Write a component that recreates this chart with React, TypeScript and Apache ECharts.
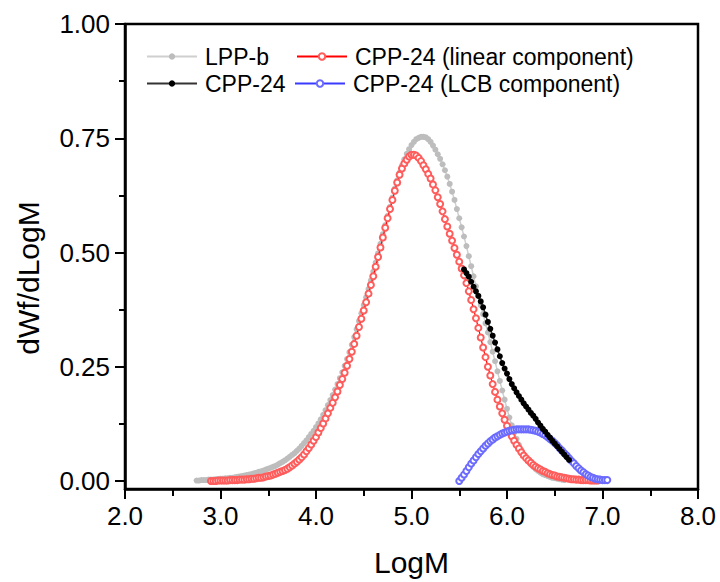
import React, { useEffect, useRef } from "react";
import * as echarts from "echarts";

// LogM vs dWf/dLogM
const lppB: [number, number][] = [
  [2.75, 0.001], [2.775, 0.001], [2.8, 0.002], [2.825, 0.002], [2.85, 0.002], [2.875, 0.003], [2.9, 0.003], [2.925, 0.003],
  [2.95, 0.004], [2.975, 0.004], [3.0, 0.005], [3.025, 0.005], [3.05, 0.006], [3.075, 0.006], [3.1, 0.007], [3.125, 0.007],
  [3.15, 0.008], [3.175, 0.009], [3.2, 0.01], [3.225, 0.011], [3.25, 0.012], [3.275, 0.013], [3.3, 0.014], [3.325, 0.015],
  [3.35, 0.017], [3.375, 0.018], [3.4, 0.02], [3.425, 0.021], [3.45, 0.023], [3.475, 0.025], [3.5, 0.027], [3.525, 0.029],
  [3.55, 0.031], [3.575, 0.033], [3.6, 0.036], [3.625, 0.039], [3.65, 0.042], [3.675, 0.045], [3.7, 0.049], [3.725, 0.053],
  [3.75, 0.057], [3.775, 0.061], [3.8, 0.066], [3.825, 0.071], [3.85, 0.077], [3.875, 0.083], [3.9, 0.089], [3.925, 0.096],
  [3.95, 0.103], [3.975, 0.11], [4.0, 0.118], [4.025, 0.126], [4.05, 0.135], [4.075, 0.145], [4.1, 0.155], [4.125, 0.166],
  [4.15, 0.177], [4.175, 0.188], [4.2, 0.2], [4.225, 0.212], [4.25, 0.225], [4.275, 0.238], [4.3, 0.252], [4.325, 0.267],
  [4.35, 0.282], [4.375, 0.298], [4.4, 0.315], [4.425, 0.332], [4.45, 0.35], [4.475, 0.367], [4.5, 0.385], [4.525, 0.402],
  [4.55, 0.42], [4.575, 0.439], [4.6, 0.458], [4.625, 0.478], [4.65, 0.498], [4.675, 0.519], [4.7, 0.54], [4.725, 0.56],
  [4.75, 0.58], [4.775, 0.6], [4.8, 0.62], [4.825, 0.64], [4.85, 0.658], [4.875, 0.675], [4.9, 0.69], [4.925, 0.704],
  [4.95, 0.716], [4.975, 0.726], [5.0, 0.735], [5.025, 0.742], [5.05, 0.748], [5.075, 0.751], [5.1, 0.753], [5.125, 0.753],
  [5.15, 0.752], [5.175, 0.748], [5.2, 0.742], [5.225, 0.734], [5.25, 0.725], [5.275, 0.715], [5.3, 0.705], [5.325, 0.693],
  [5.35, 0.68], [5.375, 0.666], [5.4, 0.65], [5.425, 0.633], [5.45, 0.615], [5.475, 0.595], [5.5, 0.575], [5.525, 0.555],
  [5.55, 0.535], [5.575, 0.514], [5.6, 0.492], [5.625, 0.47], [5.65, 0.448], [5.675, 0.426], [5.7, 0.405], [5.725, 0.385],
  [5.75, 0.365], [5.775, 0.345], [5.8, 0.325], [5.825, 0.304], [5.85, 0.283], [5.875, 0.262], [5.9, 0.24], [5.925, 0.219],
  [5.95, 0.198], [5.975, 0.178], [6.0, 0.158], [6.025, 0.139], [6.05, 0.122], [6.075, 0.106], [6.1, 0.092], [6.125, 0.079],
  [6.15, 0.068], [6.175, 0.058], [6.2, 0.05], [6.225, 0.043], [6.25, 0.036], [6.275, 0.031], [6.3, 0.026], [6.325, 0.022],
  [6.35, 0.018], [6.375, 0.015], [6.4, 0.013], [6.425, 0.011], [6.45, 0.009], [6.475, 0.007], [6.5, 0.006], [6.525, 0.005],
  [6.55, 0.004], [6.575, 0.003], [6.6, 0.002],
];

const cpp24: [number, number][] = [
  [5.55, 0.463], [5.575, 0.455], [5.6, 0.447], [5.625, 0.436], [5.65, 0.425], [5.675, 0.415], [5.7, 0.405], [5.725, 0.393],
  [5.75, 0.38], [5.775, 0.364], [5.8, 0.348], [5.825, 0.333], [5.85, 0.318], [5.875, 0.303], [5.9, 0.288], [5.925, 0.273],
  [5.95, 0.258], [5.975, 0.246], [6.0, 0.235], [6.025, 0.223], [6.05, 0.212], [6.075, 0.203], [6.1, 0.194], [6.125, 0.186],
  [6.15, 0.178], [6.175, 0.17], [6.2, 0.163], [6.225, 0.156], [6.25, 0.149], [6.275, 0.143], [6.3, 0.136], [6.325, 0.128],
  [6.35, 0.121], [6.375, 0.114], [6.4, 0.108], [6.425, 0.101], [6.45, 0.095], [6.475, 0.088], [6.5, 0.082], [6.525, 0.076],
  [6.55, 0.07], [6.575, 0.064], [6.6, 0.058], [6.625, 0.052], [6.65, 0.046],
];

const cppLinear: [number, number][] = [
  [2.9, 0.0], [2.925, 0.0], [2.95, 0.0], [2.975, 0.001], [3.0, 0.001], [3.025, 0.001], [3.05, 0.001], [3.075, 0.001],
  [3.1, 0.002], [3.125, 0.002], [3.15, 0.002], [3.175, 0.002], [3.2, 0.003], [3.225, 0.003], [3.25, 0.003], [3.275, 0.004],
  [3.3, 0.004], [3.325, 0.005], [3.35, 0.005], [3.375, 0.006], [3.4, 0.007], [3.425, 0.007], [3.45, 0.008], [3.475, 0.01],
  [3.5, 0.011], [3.525, 0.012], [3.55, 0.014], [3.575, 0.016], [3.6, 0.018], [3.625, 0.02], [3.65, 0.022], [3.675, 0.024],
  [3.7, 0.027], [3.725, 0.03], [3.75, 0.034], [3.775, 0.038], [3.8, 0.042], [3.825, 0.047], [3.85, 0.052], [3.875, 0.058],
  [3.9, 0.065], [3.925, 0.072], [3.95, 0.08], [3.975, 0.088], [4.0, 0.096], [4.025, 0.106], [4.05, 0.116], [4.075, 0.126],
  [4.1, 0.137], [4.125, 0.148], [4.15, 0.16], [4.175, 0.171], [4.2, 0.183], [4.225, 0.196], [4.25, 0.21], [4.275, 0.223],
  [4.3, 0.237], [4.325, 0.252], [4.35, 0.267], [4.375, 0.283], [4.4, 0.3], [4.425, 0.318], [4.45, 0.337], [4.475, 0.355],
  [4.5, 0.373], [4.525, 0.391], [4.55, 0.41], [4.575, 0.429], [4.6, 0.448], [4.625, 0.469], [4.65, 0.49], [4.675, 0.511],
  [4.7, 0.533], [4.725, 0.554], [4.75, 0.575], [4.775, 0.595], [4.8, 0.615], [4.825, 0.635], [4.85, 0.653], [4.875, 0.67],
  [4.9, 0.684], [4.925, 0.695], [4.95, 0.703], [4.975, 0.71], [5.0, 0.714], [5.025, 0.714], [5.05, 0.712], [5.075, 0.707],
  [5.1, 0.7], [5.125, 0.691], [5.15, 0.682], [5.175, 0.672], [5.2, 0.662], [5.225, 0.649], [5.25, 0.636], [5.275, 0.621],
  [5.3, 0.606], [5.325, 0.59], [5.35, 0.573], [5.375, 0.557], [5.4, 0.541], [5.425, 0.526], [5.45, 0.51], [5.475, 0.495],
  [5.5, 0.48], [5.525, 0.465], [5.55, 0.45], [5.575, 0.433], [5.6, 0.415], [5.625, 0.396], [5.65, 0.376], [5.675, 0.356],
  [5.7, 0.335], [5.725, 0.314], [5.75, 0.292], [5.775, 0.271], [5.8, 0.25], [5.825, 0.231], [5.85, 0.212], [5.875, 0.195],
  [5.9, 0.178], [5.925, 0.163], [5.95, 0.148], [5.975, 0.134], [6.0, 0.121], [6.025, 0.109], [6.05, 0.098], [6.075, 0.088],
  [6.1, 0.079], [6.125, 0.071], [6.15, 0.063], [6.175, 0.056], [6.2, 0.05], [6.225, 0.045], [6.25, 0.04], [6.275, 0.035],
  [6.3, 0.031], [6.325, 0.028], [6.35, 0.025], [6.375, 0.022], [6.4, 0.02], [6.425, 0.017], [6.45, 0.015], [6.475, 0.013],
  [6.5, 0.012], [6.525, 0.01], [6.55, 0.009], [6.575, 0.008], [6.6, 0.007], [6.625, 0.006], [6.65, 0.005], [6.675, 0.004],
  [6.7, 0.004], [6.725, 0.003], [6.75, 0.003], [6.775, 0.002], [6.8, 0.002], [6.825, 0.002], [6.85, 0.002], [6.875, 0.001],
  [6.9, 0.001], [6.925, 0.001], [6.95, 0.001],
];

const cppLcb: [number, number][] = [
  [5.5, 0.0], [5.525, 0.007], [5.55, 0.014], [5.575, 0.022], [5.6, 0.03], [5.625, 0.038], [5.65, 0.045], [5.675, 0.052],
  [5.7, 0.059], [5.725, 0.065], [5.75, 0.071], [5.775, 0.077], [5.8, 0.082], [5.825, 0.087], [5.85, 0.091], [5.875, 0.095],
  [5.9, 0.098], [5.925, 0.101], [5.95, 0.104], [5.975, 0.106], [6.0, 0.108], [6.025, 0.11], [6.05, 0.111], [6.075, 0.112],
  [6.1, 0.113], [6.125, 0.113], [6.15, 0.113], [6.175, 0.113], [6.2, 0.113], [6.225, 0.113], [6.25, 0.112], [6.275, 0.111],
  [6.3, 0.11], [6.325, 0.108], [6.35, 0.106], [6.375, 0.103], [6.4, 0.1], [6.425, 0.096], [6.45, 0.092], [6.475, 0.088],
  [6.5, 0.083], [6.525, 0.078], [6.55, 0.072], [6.575, 0.067], [6.6, 0.061], [6.625, 0.056], [6.65, 0.05], [6.675, 0.044],
  [6.7, 0.039], [6.725, 0.033], [6.75, 0.028], [6.775, 0.023], [6.8, 0.019], [6.825, 0.015], [6.85, 0.012], [6.875, 0.009],
  [6.9, 0.007], [6.925, 0.005], [6.95, 0.004], [6.975, 0.003], [7.0, 0.002], [7.025, 0.002], [7.05, 0.002],
];

const seriesNames = ["LPP-b", "CPP-24", "CPP-24 (linear component)", "CPP-24 (LCB component)"];
const yMajorTicks = [0, 0.25, 0.5, 0.75, 1.0];
const yMinorTicks = [0.125, 0.375, 0.625, 0.875];
const xAxisTitle = "LogM";
const yAxisTitle = "dWf/dLogM";

const FONT = '"Liberation Sans", Arial, sans-serif';

export default function App() {
  const ref = useRef<HTMLDivElement>(null);
  useEffect(() => {
    document.body.style.margin = "0";
    if (!ref.current) return;
    const chart = echarts.init(ref.current, undefined, { renderer: "svg" });
    const legendCommon = {
      orient: "horizontal",
      itemWidth: 50,
      itemHeight: 8,
      itemGap: 0,
      padding: 0,
      selectedMode: false,
      textStyle: { fontSize: 23, fontFamily: FONT, color: "#000", padding: [0, 0, 0, 3] },
    };
    chart.setOption({
      animation: false,
      backgroundColor: "#fff",
      grid: {
        left: 125,
        right: 22,
        top: 24,
        bottom: 92,
        show: true,
        borderColor: "#000",
        borderWidth: 2.5,
        backgroundColor: "transparent",
      },
      legend: [
        { ...legendCommon, data: [seriesNames[0]], left: 146, top: 45 },
        { ...legendCommon, data: [seriesNames[2]], left: 296, top: 45 },
        { ...legendCommon, data: [seriesNames[1]], left: 146, top: 72 },
        { ...legendCommon, data: [seriesNames[3]], left: 294, top: 72 },
      ],
      xAxis: {
        type: "value",
        min: 2,
        max: 8,
        interval: 1,
        name: xAxisTitle,
        nameLocation: "middle",
        nameGap: 58,
        nameTextStyle: { fontSize: 30, fontFamily: FONT, color: "#000" },
        axisLine: { show: true, onZero: false, lineStyle: { color: "#000", width: 2.5 } },
        axisTick: { show: true, inside: false, length: 10, lineStyle: { color: "#000", width: 2 } },
        minorTick: { show: true, splitNumber: 2, length: 7, lineStyle: { color: "#000", width: 2 } },
        axisLabel: {
          fontSize: 26,
          fontFamily: FONT,
          color: "#000",
          margin: 14,
          formatter: (v: number) => v.toFixed(1),
        },
        splitLine: { show: false },
        minorSplitLine: { show: false },
      },
      yAxis: [
        {
          type: "value",
          min: -0.0175,
          max: 1.0,
          position: "left",
          axisLine: { show: true, onZero: false, lineStyle: { color: "#000", width: 2.5 } },
          axisTick: {
            show: true,
            inside: false,
            length: 10,
            customValues: yMajorTicks,
            lineStyle: { color: "#000", width: 2 },
          },
          axisLabel: {
            fontSize: 26,
            fontFamily: FONT,
            color: "#000",
            margin: 15,
            customValues: yMajorTicks,
            formatter: (v: number) => v.toFixed(2),
          },
          splitLine: { show: false },
        },
        {
          type: "value",
          min: -0.0175,
          max: 1.0,
          position: "left",
          offset: 0,
          axisLine: { show: false, onZero: false },
          axisTick: {
            show: true,
            inside: false,
            length: 6,
            customValues: yMinorTicks,
            lineStyle: { color: "#000", width: 2 },
          },
          axisLabel: { show: false, customValues: yMinorTicks },
          splitLine: { show: false },
        },
      ],
      graphic: [
        {
          type: "text",
          x: 28,
          y: 278,
          rotation: Math.PI / 2,
          style: {
            text: yAxisTitle,
            font: `30px ${FONT}`,
            fill: "#000",
            textAlign: "center",
            textVerticalAlign: "middle",
          },
        },
      ],
      series: [
        {
          name: seriesNames[0],
          type: "line",
          data: lppB,
          symbol: "circle",
          symbolSize: 6,
          showAllSymbol: true,
          itemStyle: { color: "#bdbdbd" },
          lineStyle: { color: "#cfcfcf", width: 1.5 },
          z: 2,
        },
        {
          name: seriesNames[1],
          type: "line",
          data: cpp24,
          symbol: "circle",
          symbolSize: 6,
          showAllSymbol: true,
          itemStyle: { color: "#000" },
          lineStyle: { color: "#333", width: 1.5 },
          z: 5,
        },
        {
          name: seriesNames[2],
          type: "line",
          data: cppLinear,
          symbol: "emptyCircle",
          symbolSize: 6,
          showAllSymbol: true,
          itemStyle: { color: "#ff5c5c", borderWidth: 1 },
          lineStyle: { color: "#ff0000", width: 1.2 },
          z: 3,
        },
        {
          name: seriesNames[3],
          type: "line",
          data: cppLcb,
          symbol: "emptyCircle",
          symbolSize: 6,
          showAllSymbol: true,
          itemStyle: { color: "#6b6bff", borderWidth: 1 },
          lineStyle: { color: "#3a3aff", width: 1.2 },
          z: 4,
        },
      ],
    });
    return () => chart.dispose();
  }, []);
  return <div ref={ref} style={{ width: 720, height: 582 }} />;
}
